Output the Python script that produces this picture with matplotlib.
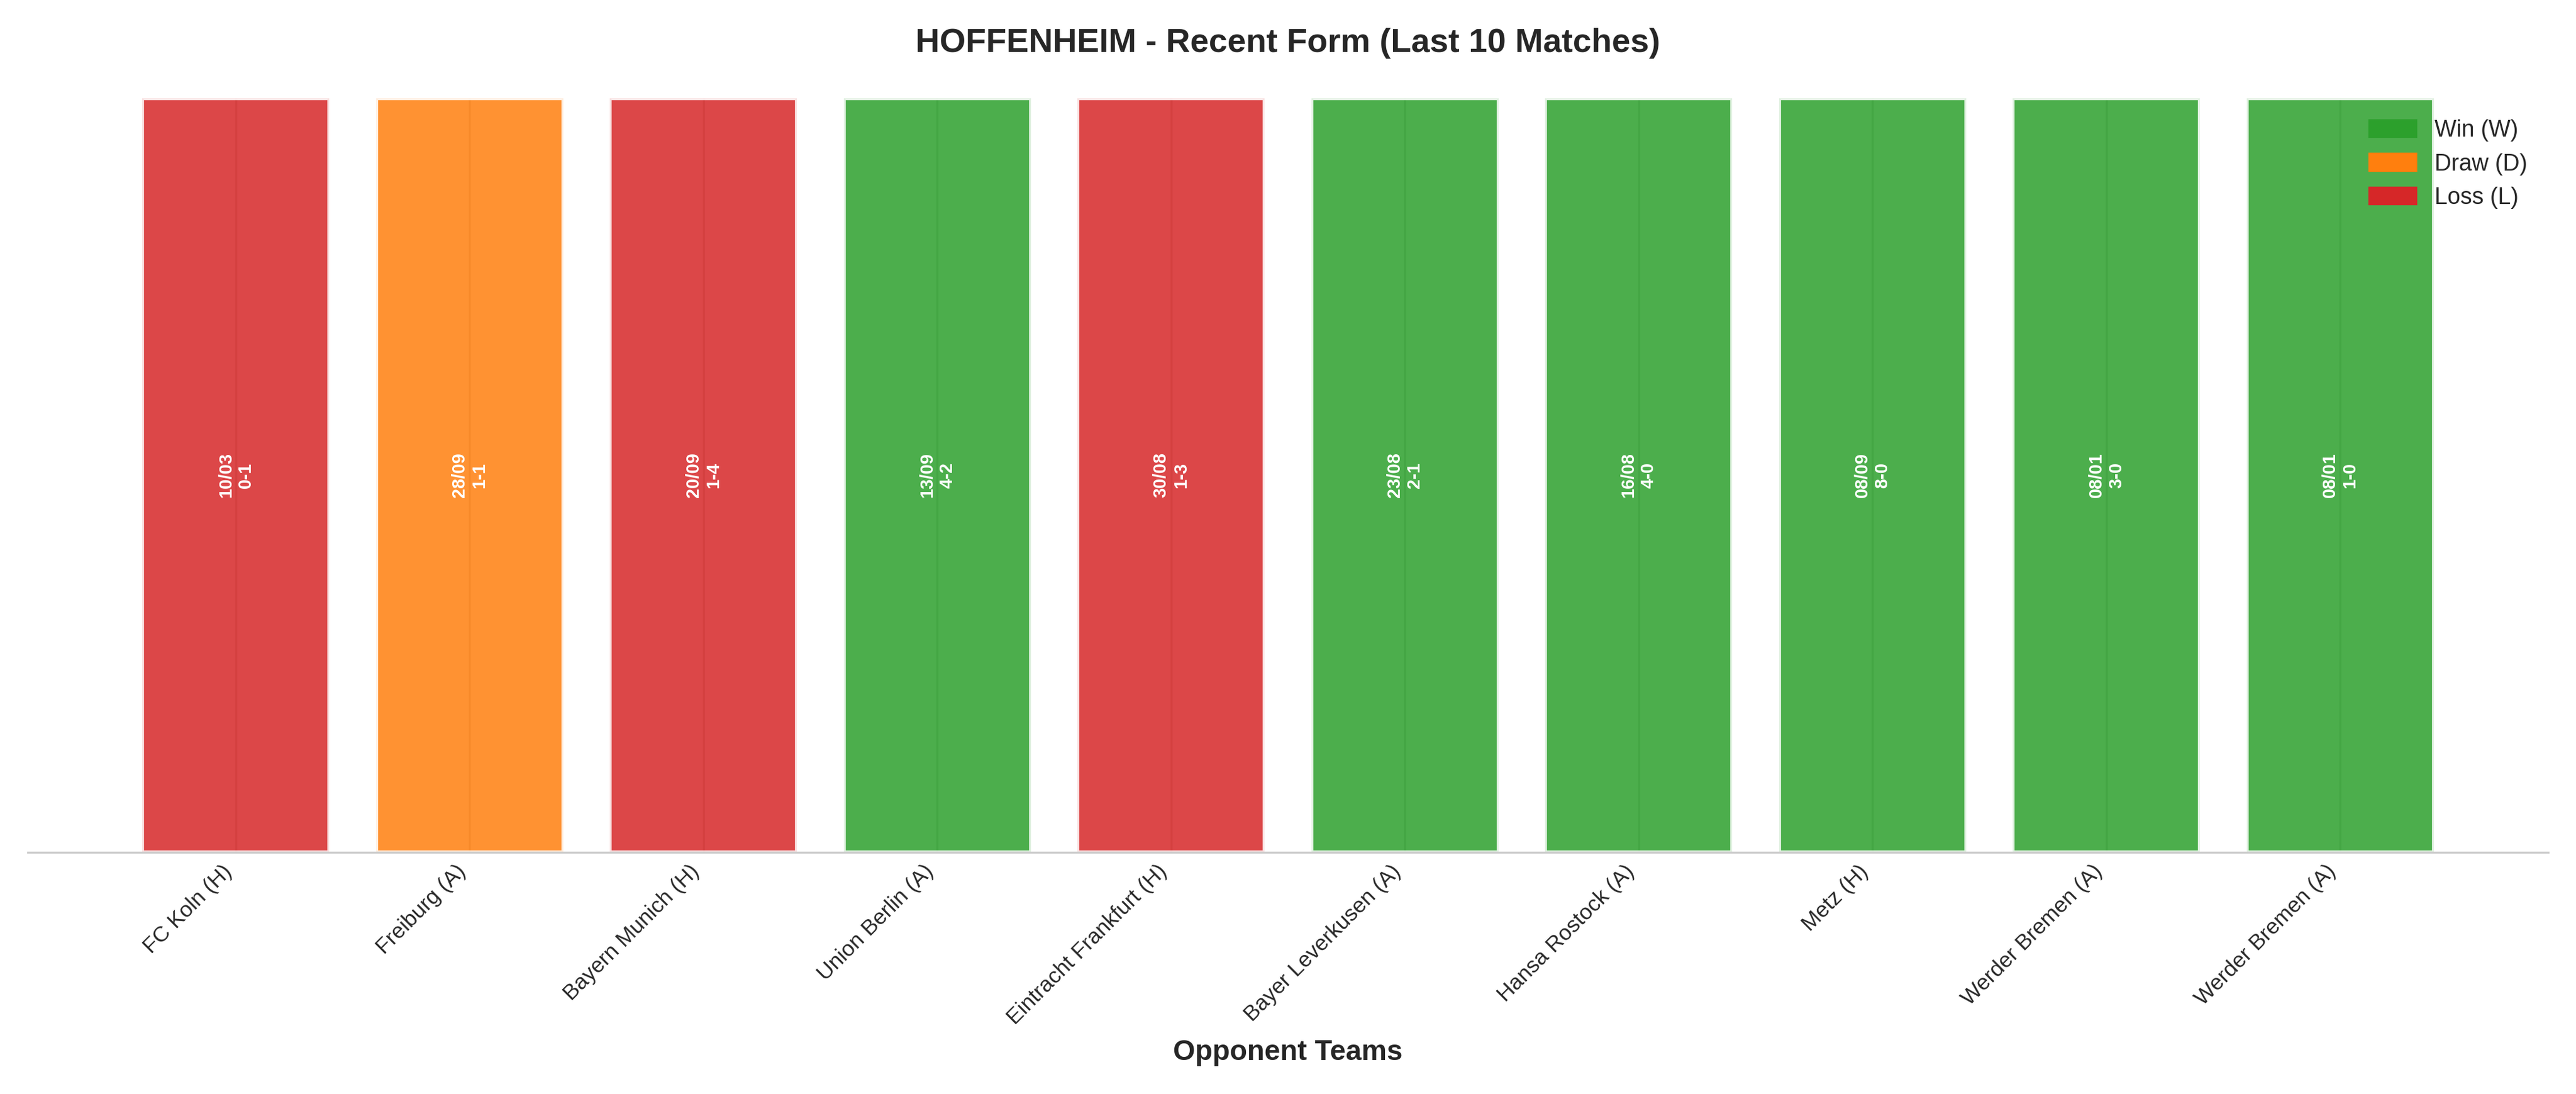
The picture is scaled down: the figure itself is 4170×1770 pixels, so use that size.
import matplotlib
matplotlib.use("Agg")
import matplotlib.pyplot as plt
import seaborn as sns
from matplotlib.patches import Patch

sns.set_style("whitegrid")
plt.rcParams['font.family'] = ['Liberation Sans', 'DejaVu Sans']

opponents = ["FC Koln (H)", "Freiburg (A)", "Bayern Munich (H)", "Union Berlin (A)",
             "Eintracht Frankfurt (H)", "Bayer Leverkusen (A)", "Hansa Rostock (A)",
             "Metz (H)", "Werder Bremen (A)", "Werder Bremen (A)"]
results = ["L", "D", "L", "W", "L", "W", "W", "W", "W", "W"]
dates = ["10/03", "28/09", "20/09", "13/09", "30/08", "23/08", "16/08", "08/09", "08/01", "08/01"]
scores = ["0-1", "1-1", "1-4", "4-2", "1-3", "2-1", "4-0", "8-0", "3-0", "1-0"]
colors = {"W": "#2ca02c", "D": "#ff7f0e", "L": "#d62728"}

fig, ax = plt.subplots(figsize=(13.9, 5.9), dpi=300)
x = list(range(len(opponents)))
ax.bar(x, [1]*len(x), color=[colors[r] for r in results], alpha=0.85,
       edgecolor="white", linewidth=1.5, width=0.8)
for i in x:
    ax.text(i, 0.5, f"{dates[i]}\n{scores[i]}", ha="center", va="center", rotation=90,
            color="white", fontsize=7, fontweight="bold")
ax.set_xticks(x)
ax.set_xticklabels(opponents, rotation=45, ha="right", fontsize=8.5)
ax.tick_params(axis="x", length=0)
ax.set_yticks([])
ax.set_ylim(0, 1.0)
ax.set_xlim(-0.89, 9.89)
ax.grid(axis="y", visible=False)
for s in ["top", "right", "left"]:
    ax.spines[s].set_visible(False)
ax.spines["bottom"].set_color("#cccccc")
ax.set_xlabel("Opponent Teams", fontsize=11, fontweight="bold")
ax.set_title("HOFFENHEIM - Recent Form (Last 10 Matches)", fontsize=13, fontweight="bold", pad=18)
handles = [Patch(color=colors["W"], label="Win (W)"),
           Patch(color=colors["D"], label="Draw (D)"),
           Patch(color=colors["L"], label="Loss (L)")]
ax.legend(handles=handles, loc="upper right", frameon=False, fontsize=9)
plt.tight_layout()
fig.savefig("out.png", dpi=300)
